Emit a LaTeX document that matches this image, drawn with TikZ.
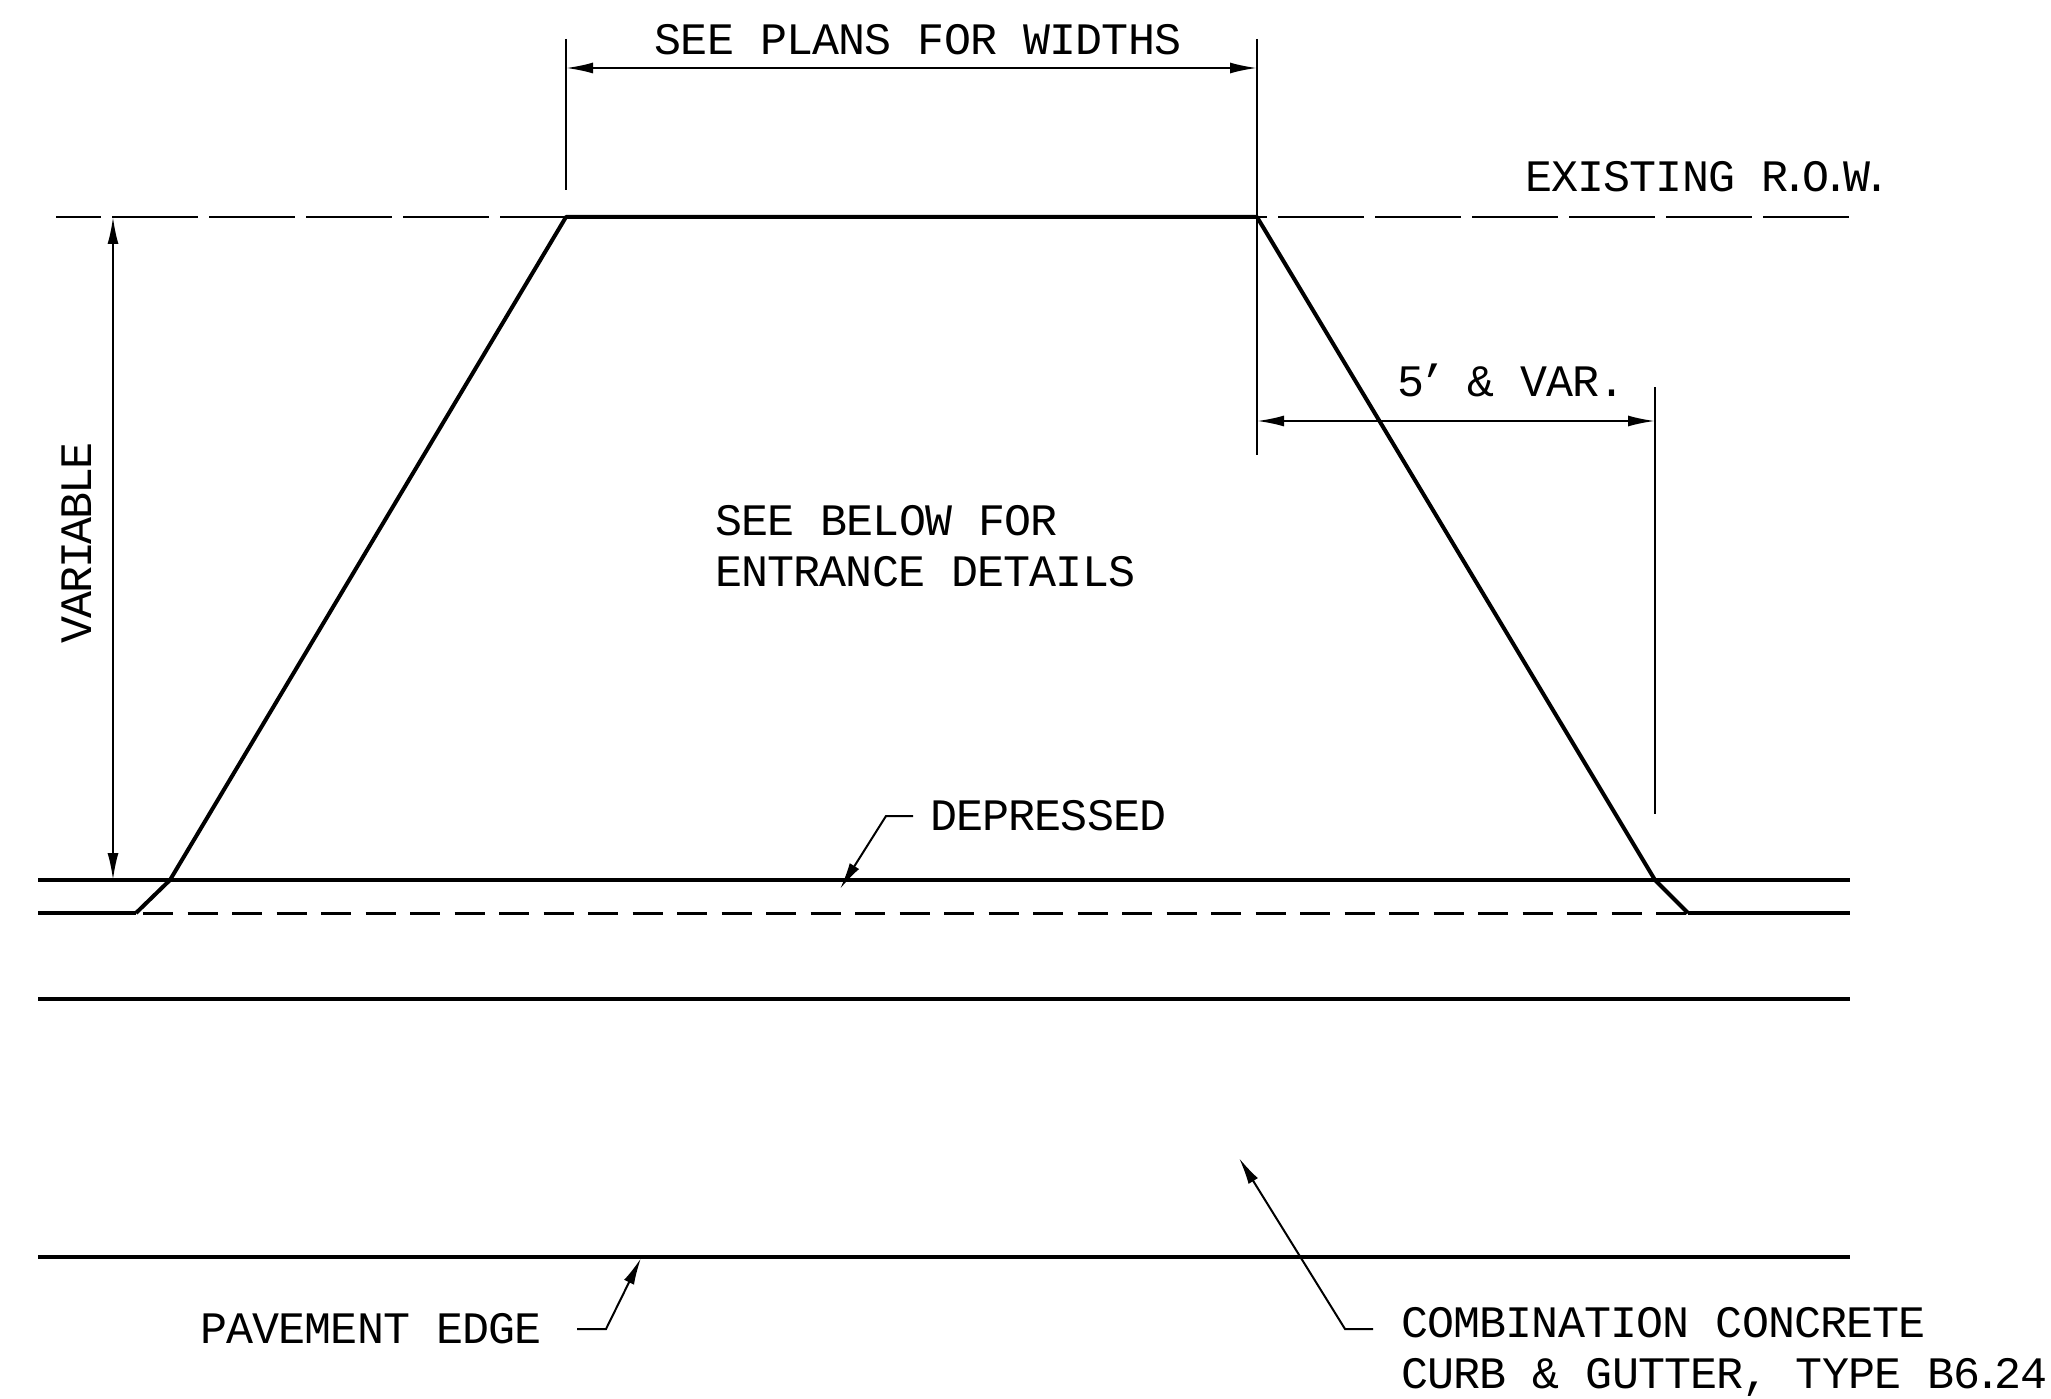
\documentclass[tikz,border=0pt]{standalone}
\usepackage{fontspec}
\setmainfont[LetterSpace=-1.9]{Liberation Mono}
\usetikzlibrary{arrows.meta,positioning}
%narrow stops, as the lettering has them
\newcommand{\nstop}{\kern-6.5pt.\kern-6.5pt}
\tikzset{
    %Define standard arrow tip
    >={Latex[length=27pt,width=11pt]},
    %Define style for lettering
    note/.style={
           inner sep=0pt,
           font=\fontsize{45}{51}\selectfont},
    % Define line styles
    heavy/.style={line width=4pt},
    edgeline/.style={line width=3.4pt},
    thinline/.style={line width=2pt},
    rowdash/.style={line width=2.4pt,dash pattern=on 86pt off 11pt},
    lipdash/.style={line width=3pt,dash pattern=on 30pt off 14.5pt}
}
\begin{document}
\begin{tikzpicture}[x=1pt,y=-1pt]
  \useasboundingbox (0,0) rectangle (2051,1399);
  % taper corners
  \coordinate (topl) at (566,217);
  \coordinate (topr) at (1257,217);
  \coordinate (lipl) at (170,880);
  \coordinate (lipr) at (1655,880);
  \coordinate (toel) at (136,913);
  \coordinate (toer) at (1688,913);
  % existing R.O.W.
  \coordinate (rowl) at (56,217);
  \coordinate (rowr) at (1850,217);
  \draw[rowdash,dash phase=41pt] (rowl) -- (topl);
  \draw[rowdash] (topr)+(21,0) -- (rowr);
  \draw[rowdash] (topr) -- +(10,0);
  % entrance outline
  \draw[heavy,line join=round] (toel) -- (lipl) -- (topl) -- (topr) -- (lipr) -- (toer);
  % curb lines
  \coordinate (curbal) at (38,880);
  \coordinate (curbar) at (1850,880);
  \coordinate (curbbl) at (38,913);
  \coordinate (curbbr) at (1850,913);
  \coordinate (curbcl) at (38,999);
  \coordinate (curbcr) at (1850,999);
  \coordinate (curbdl) at (38,1257);
  \coordinate (curbdr) at (1850,1257);
  \draw[edgeline] (curbal) -- (curbar);
  \draw[edgeline] (curbbl) -- (toel);
  \draw[lipdash] (toel)+(7,0) -- (toer);
  \draw[edgeline] (toer) -- (curbbr);
  \draw[edgeline] (curbcl) -- (curbcr);
  \draw[edgeline] (curbdl) -- (curbdr);
  % width dimension
  \coordinate (extla) at (566,39);
  \coordinate (extlb) at (566,190);
  \coordinate (extra) at (1257,39);
  \coordinate (extrb) at (1257,455);
  \draw[thinline] (extla) -- (extlb);
  \draw[thinline] (extra) -- (extrb);
  \coordinate (widl) at (566,68);
  \coordinate (widr) at (1257,68);
  \draw[thinline,<->] (widl) -- (widr);
  \node[note] (widths) at (918,40) {SEE PLANS FOR WIDTHS};
  % height dimension
  \coordinate (varat) at (113,217);
  \coordinate (varab) at (113,880);
  \draw[thinline,<->] (varat) -- (varab);
  \node[note,rotate=90] (variable) at (77,543) {\addfontfeature{LetterSpace=-5}VARIABLE};
  % taper dimension
  \coordinate (extsa) at (1655,387);
  \coordinate (extsb) at (1655,814);
  \draw[thinline] (extsa) -- (extsb);
  \coordinate (varl) at (1257,421);
  \coordinate (varr) at (1655,421);
  \draw[thinline,<->] (varl) -- (varr);
  \node[note,anchor=west] (var) at (1397,380) {5\kern-5pt'\kern-5pt{} \& VAR.};
  \node[note,anchor=west] (row) at (1525,177) {EXISTING R\nstop O\nstop W\nstop};
  \node[note,anchor=west,align=left] (below) at (715,546) {SEE BELOW FOR\\ENTRANCE DETAILS};
  % leaders
  \node[note,anchor=west] (depressed) at (930,816) {DEPRESSED};
  \coordinate (depa) at (913,816);
  \coordinate (depb) at (886,816);
  \coordinate (depc) at (840,889);
  \draw[thinline,->] (depa) -- (depb) -- (depc);
  \node[note,anchor=west] (pavement) at (200,1329) {PAVEMENT EDGE};
  \coordinate (pava) at (577,1329);
  \coordinate (pavb) at (606,1329);
  \coordinate (pavc) at (641,1258);
  \draw[thinline,->] (pava) -- (pavb) -- (pavc);
  \node[note,anchor=west,align=left] (combo) at (1401,1352) {COMBINATION CONCRETE\\CURB \& GUTTER, TYPE B6\nstop 24};
  \coordinate (cura) at (1373,1329);
  \coordinate (curb) at (1345,1329);
  \coordinate (curc) at (1239,1158);
  \draw[thinline,->] (cura) -- (curb) -- (curc);
\end{tikzpicture}
\end{document}
